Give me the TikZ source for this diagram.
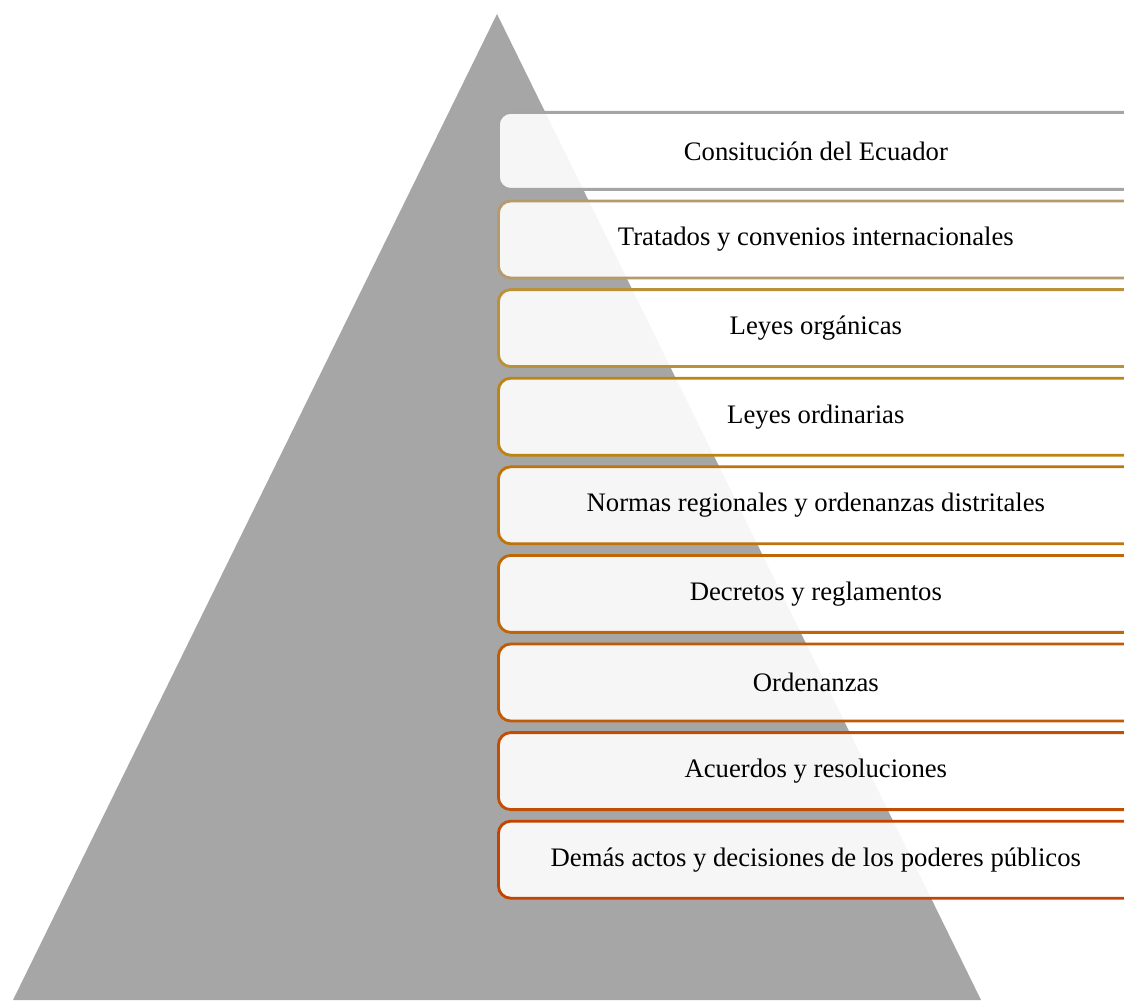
\documentclass[tikz,border=0pt]{standalone}
\usepackage{fontspec}
\setmainfont{Liberation Serif}
\usepackage{tikz}
\usetikzlibrary{positioning}
\definecolor{Pyramid}{HTML}{A6A6A6}
\definecolor{TierA}{HTML}{A5A5A5}
\definecolor{TierB}{HTML}{B59A6C}
\definecolor{TierC}{HTML}{BA9038}
\definecolor{TierD}{HTML}{BC8410}
\definecolor{TierE}{HTML}{BE740A}
\definecolor{TierF}{HTML}{BF6606}
\definecolor{TierG}{HTML}{C05A04}
\definecolor{TierH}{HTML}{C14E02}
\definecolor{TierI}{HTML}{C34300}
\tikzset{
  tierbox/.style={rounded corners=7pt, fill=white, fill opacity=0.9, text opacity=1, line width=1.6pt, anchor=north west, minimum width=13.26cm, minimum height=1.54cm, align=center, inner sep=4pt, font=\fontsize{15.2}{18}\selectfont},
}

\begin{document}
\begin{tikzpicture}[x=0.02cm,y=-0.02cm]
\path[use as bounding box] (0,0) rectangle (1124,1000);
\clip (0,0) rectangle (1124,1000);

% pyramid
\fill[Pyramid] (497,14) -- (981,1000) -- (13,1000) -- cycle;

% hierarchy tiers, running past the right edge
\foreach \i/\col/\txt in {1/TierA/{Consitución del Ecuador},2/TierB/{Tratados y convenios internacionales},3/TierC/{Leyes orgánicas},4/TierD/{Leyes ordinarias},5/TierE/{Normas regionales y ordenanzas distritales},6/TierF/{Decretos y reglamentos},7/TierG/{Ordenanzas},8/TierH/{Acuerdos y resoluciones},9/TierI/{Demás actos y decisiones de los poderes públicos}}{
  \node[tierbox,draw=\col] (tier\i) at (497,{111+(\i-1)*88.6}) {\txt\hspace*{0.56cm}};
}
\end{tikzpicture}
\end{document}
